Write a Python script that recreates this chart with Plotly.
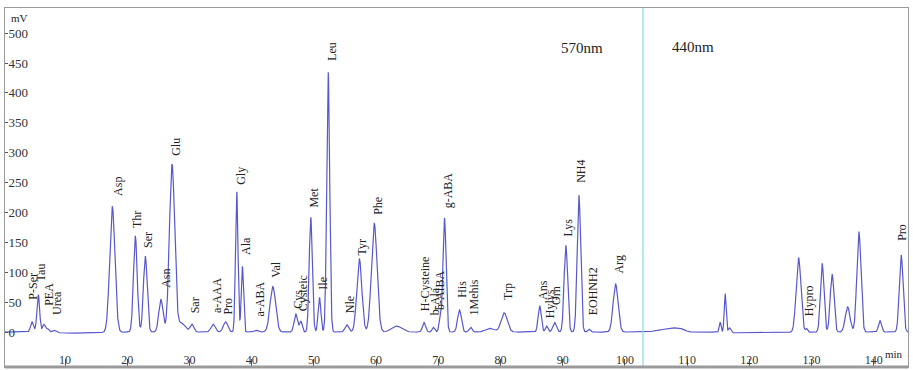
import numpy as np
import plotly.graph_objects as go

# ---- data ----
# peak retention times (min), heights (mV), widths (sigma, min)
peak_time = [4.7, 5.7, 6.6, 7.2, 8.2, 12.0, 17.6, 21.3, 22.9, 25.4, 27.2, 28.7, 30.4, 33.8, 35.8,
             37.6, 38.5, 40.7, 43.4, 47.1, 47.9, 49.5, 50.9, 52.3, 55.3, 57.3, 59.7, 63.3,
             67.7, 69.2, 70.3, 71.0, 73.4, 75.2, 78.3, 80.6, 86.3, 87.4, 88.7, 90.5, 92.6,
             94.2, 98.5, 108.0, 110.3, 115.3, 116.1, 116.8, 121.0, 127.9, 129.2, 131.7,
             133.3, 135.8, 137.6, 141.0, 144.4]
peak_height = [17, 63, 13, 6, 4, -2, 210, 160, 127, 55, 280, 15, 13, 13, 17,
               235, 110, 3, 76, 30, 18, 192, 58, 435, 12, 123, 182, 10,
               16, 8, 22, 190, 37, 8, 6, 32, 44, 10, 16, 145, 229,
               5, 80, 7, -3, 17, 65, 8, -1.5, 125, 6, 115,
               97, 42, 168, 19, 129]
peak_width = [0.25, 0.22, 0.22, 0.2, 0.3, 3.0, 0.42, 0.3, 0.3, 0.33, 0.42, 0.6, 0.3, 0.35, 0.35,
              0.2, 0.18, 0.3, 0.45, 0.28, 0.2, 0.25, 0.22, 0.24, 0.3, 0.4, 0.45, 0.8,
              0.25, 0.2, 0.2, 0.25, 0.3, 0.25, 0.7, 0.5, 0.25, 0.2, 0.3, 0.28, 0.28,
              0.2, 0.4, 2.0, 0.6, 0.15, 0.15, 0.2, 4.0, 0.38, 0.15, 0.28,
              0.3, 0.38, 0.33, 0.25, 0.3]

# peak labels: name, label time (min), label base (mV)
label_names = ["P-Ser", "Tau", "PEA", "Urea", "Asp", "Thr", "Ser", "Asn", "Glu", "Sar", "a-AAA",
               "Pro", "Gly", "Ala", "a-ABA", "Val", "Cys", "Cysteic", "Met", "Ile", "Leu", "Nle",
               "Tyr", "Phe", "H-Cysteine", "b-Ala", "b-AIBA", "g-ABA", "His", "1Mehis", "Trp",
               "Ans", "Hylys", "Orn", "Lys", "NH4", "EOHNH2", "Arg", "Hypro", "Pro"]
label_time = [4.85, 6.2, 7.3, 8.7, 18.4, 21.6, 23.3, 26.1, 27.8, 30.9, 34.4,
              36.2, 38.3, 39.2, 41.3, 43.8, 47.4, 48.3, 50.1, 51.5, 52.9, 55.7,
              57.7, 60.4, 68.0, 69.5, 70.4, 71.6, 73.9, 75.8, 81.1,
              86.8, 87.9, 89.0, 90.9, 93.0, 94.9, 99.1, 129.5, 144.6]
label_base = [50, 82, 40, 25, 224, 170, 137, 70, 291, 28, 28,
              25, 243, 125, 23, 87, 36, 32, 204, 67, 451, 28,
              125, 192, 32, 25, 33, 204, 54, 25, 50,
              50, 20, 42, 157, 246, 25, 95, 23, 149]

x_ticks = [10, 20, 30, 40, 50, 60, 70, 80, 90, 100, 110, 120, 130, 140]
y_ticks = [-50, 0, 50, 100, 150, 200, 250, 300, 350, 400, 450, 500]
wavelength_switch = 102.9
region_labels = ["570nm", "440nm"]
region_label_time = [93.1, 111.0]
region_label_mv = [475, 476]

# ---- build trace ----
t = np.arange(0.35, 145.5, 0.02)
signal = np.zeros_like(t)
for c, h, s in zip(peak_time, peak_height, peak_width):
    signal += h * np.exp(-0.5 * ((t - c) / s) ** 2)

fig = go.Figure()
fig.add_trace(go.Scatter(x=t, y=signal, mode="lines",
                         line=dict(color="#5858CC", width=1.2),
                         hoverinfo="skip", showlegend=False))

fig.add_shape(type="line", xref="x", yref="paper", x0=wavelength_switch, x1=wavelength_switch,
              y0=0, y1=1, line=dict(color="#86DCDC", width=1.2))
fig.add_shape(type="line", xref="paper", yref="paper", x0=0, x1=1, y0=0, y1=0,
              line=dict(color="#9A9A9A", width=3))

serif = "Liberation Serif"
for name, lt, lb in zip(label_names, label_time, label_base):
    fig.add_annotation(x=lt, y=lb, text=name, textangle=-90, showarrow=False,
                       xanchor="center", yanchor="bottom",
                       font=dict(family=serif, size=12, color="#222222"))

for txt, lt, lm in zip(region_labels, region_label_time, region_label_mv):
    fig.add_annotation(x=lt, y=lm, text=txt, showarrow=False,
                       font=dict(family=serif, size=15, color="#222222"))

fig.add_annotation(xref="paper", yref="paper", x=0.004, y=0.995, text="mV", showarrow=False,
                   xanchor="left", yanchor="top", font=dict(family=serif, size=11, color="#222222"))
fig.add_annotation(xref="paper", yref="paper", x=0.997, y=0.015, text="min", showarrow=False,
                   xanchor="right", yanchor="bottom", font=dict(family=serif, size=11, color="#222222"))

fig.update_xaxes(range=[0.35, 145.5], tickvals=x_ticks, ticks="inside", ticklen=0,
                 ticklabelposition="inside",
                 minor=dict(tickmode="array", tickvals=x_ticks, ticks="inside", ticklen=8,
                            tickcolor="#555555", showgrid=False),
                 tickfont=dict(family=serif, size=12, color="#333333"),
                 showline=True, linecolor="#9A9A9A", linewidth=1, mirror=True,
                 showgrid=False, zeroline=False)
fig.update_yaxes(range=[-58.5, 542], tickvals=y_ticks, ticks="inside", ticklen=3,
                 tickcolor="#555555", ticklabelposition="inside",
                 tickfont=dict(family=serif, size=13, color="#333333"),
                 showline=True, linecolor="#9A9A9A", linewidth=1, mirror=True,
                 showgrid=False, zeroline=False)

fig.update_layout(width=913, height=370, margin=dict(l=5, r=5, t=8, b=3),
                  plot_bgcolor="white", paper_bgcolor="white")

fig.write_html("out.html", config={"displayModeBar": False},
               post_script="document.body.style.margin='0';")
